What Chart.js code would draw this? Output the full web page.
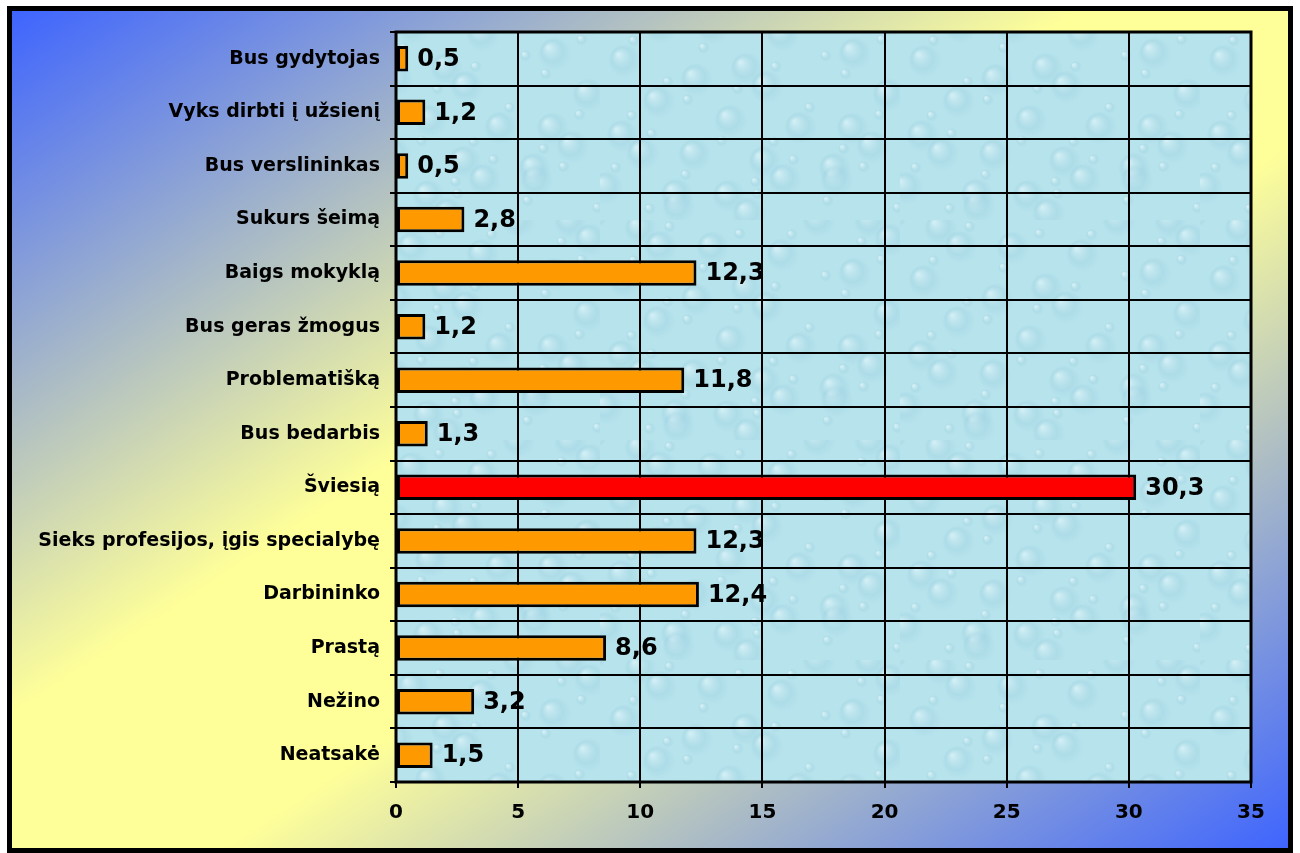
<!DOCTYPE html>
<html>
<head>
<meta charset="utf-8">
<script src="https://cdn.jsdelivr.net/npm/chart.js@4.4.1/dist/chart.umd.min.js"></script>
<style>
  html, body { margin: 0; padding: 0; background: #fff; }
  #wrap { width: 1300px; height: 853px; }
</style>
</head>
<body>
<div id="wrap"><canvas id="chart" width="1300" height="853"></canvas></div>
<script>
const categories = [
    'Bus gydytojas', 'Vyks dirbti į užsienį', 'Bus verslininkas', 'Sukurs šeimą',
    'Baigs mokyklą', 'Bus geras žmogus', 'Problematišką', 'Bus bedarbis',
    'Šviesią', 'Sieks profesijos, įgis specialybę', 'Darbininko', 'Prastą',
    'Nežino', 'Neatsakė'
];
const values = [0.5, 1.2, 0.5, 2.8, 12.3, 1.2, 11.8, 1.3, 30.3, 12.3, 12.4, 8.6, 3.2, 1.5];
const highlight = 'Šviesią';
const xTicks = [0, 5, 10, 15, 20, 25, 30, 35];

const FONT = '"DejaVu Sans", Verdana, sans-serif';

// soft water-drop texture for the plot area
function makeTexture() {
    const c = document.createElement('canvas');
    c.width = 300; c.height = 220;
    const g = c.getContext('2d');
    g.fillStyle = '#b7e3ec';
    g.fillRect(0, 0, c.width, c.height);
    for (let i = 0; i < 60; i++) {
        const x = (i * 97) % 300, y = (i * 61 + (i % 7) * 19) % 220;
        const r = 6 + (i * 11) % 22;
        const rg = g.createRadialGradient(x - r * 0.4, y - r * 0.4, 1, x, y, r);
        rg.addColorStop(0, 'rgba(240,252,255,0.45)');
        rg.addColorStop(0.6, 'rgba(150,205,222,0.3)');
        rg.addColorStop(1, 'rgba(150,205,222,0)');
        g.fillStyle = rg;
        g.beginPath(); g.arc(x, y, r, 0, Math.PI * 2); g.fill();
    }
    return c;
}

const backdrop = {
    id: 'backdrop',
    beforeDraw(chart) {
        const { ctx, chartArea: a } = chart;
        ctx.save();
        // blue in top-left and bottom-right corners, yellow along the other diagonal
        const grad = ctx.createLinearGradient(262, -158, 1038, 1018);
        grad.addColorStop(0, '#3d63ff');
        grad.addColorStop(0.42, '#ffff99');
        grad.addColorStop(0.58, '#ffff99');
        grad.addColorStop(1, '#3d63ff');
        ctx.fillStyle = grad;
        ctx.fillRect(9, 8, 1282, 843);
        ctx.fillStyle = ctx.createPattern(makeTexture(), 'repeat');
        ctx.fillRect(a.left, a.top, a.right - a.left, a.bottom - a.top);
        ctx.restore();
    },
    afterDraw(chart) {
        const { ctx, chartArea: a } = chart;
        ctx.save();
        ctx.strokeStyle = '#000';
        ctx.lineWidth = 3;
        ctx.strokeRect(a.left, a.top, a.right - a.left, a.bottom - a.top);
        ctx.lineWidth = 5;
        ctx.strokeRect(9.5, 8.5, 1281, 842);
        ctx.restore();
    }
};

const valueLabels = {
    id: 'valueLabels',
    afterDatasetsDraw(chart) {
        const { ctx } = chart;
        const meta = chart.getDatasetMeta(0);
        ctx.save();
        ctx.font = 'bold 24px ' + FONT;
        ctx.fillStyle = '#000';
        ctx.textBaseline = 'middle';
        ctx.textAlign = 'left';
        meta.data.forEach((bar, i) => {
            ctx.fillText(String(values[i]).replace('.', ','), bar.x + 9, bar.y + 1);
        });
        ctx.restore();
    }
};

new Chart(document.getElementById('chart'), {
    type: 'bar',
    data: {
        labels: categories,
        datasets: [{
            data: values,
            backgroundColor: categories.map(c => c === highlight ? '#ff0000' : '#ff9900'),
            borderColor: '#000',
            borderWidth: 3,
            borderSkipped: false,
            barPercentage: 0.56,
            categoryPercentage: 0.85
        }]
    },
    options: {
        indexAxis: 'y',
        responsive: false,
        animation: false,
        layout: { padding: { top: 32, right: 49, bottom: 31, left: 0 } },
        plugins: { legend: { display: false }, tooltip: { enabled: false } },
        scales: {
            x: {
                min: 0, max: 35,
                afterBuildTicks: s => { s.ticks = xTicks.map(v => ({ value: v })); },
                afterFit: s => { s.height = 40; },
                grid: { color: '#000', lineWidth: 2, tickLength: 6 },
                border: { display: false },
                ticks: { color: '#000', font: { family: FONT, size: 20, weight: 'bold' }, padding: 13 }
            },
            y: {
                afterFit: s => { s.width = 396; },
                grid: { color: '#000', lineWidth: 2, tickLength: 6, offset: true },
                border: { display: false },
                ticks: { color: '#000', font: { family: FONT, size: 19, weight: 'bold' }, padding: 10 }
            }
        }
    },
    plugins: [backdrop, valueLabels]
});
</script>
</body>
</html>
